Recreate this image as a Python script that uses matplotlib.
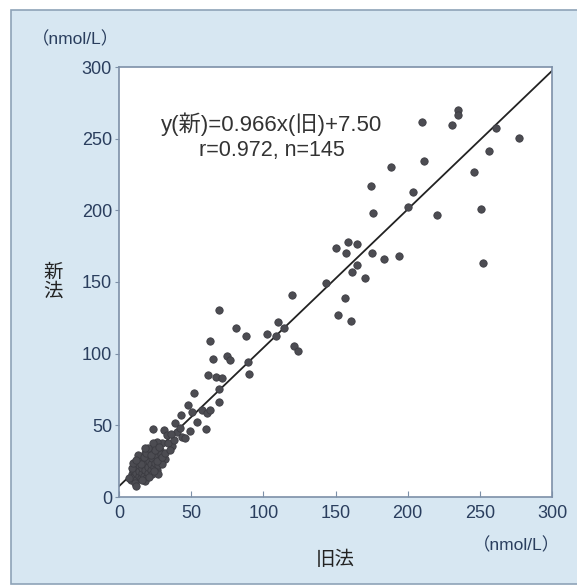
import matplotlib.pyplot as plt
from matplotlib.patches import Rectangle

# old method (x) vs new method (y), nmol/L
old_x = [210, 230.5, 235, 235, 261, 277.4, 188.3, 211, 256.4, 246.2,
         174.6, 204, 200, 176, 220.6, 250.6, 150, 159, 164.7, 157.3,
         164.7, 161.7, 170.5, 175.5, 183.9, 194, 252.5, 143.5, 119.7, 156.6,
         151.5, 160.8, 69.5, 110.4, 114.6, 81, 88, 102.3, 108.8, 63,
         121.3, 123.8, 64.9, 74.6, 76.9, 89.6, 90.3, 61.5, 67.2, 71.2,
         69.5, 69.5, 52.2, 48, 50.4, 57.3, 60.8, 63, 43, 53.8,
         60.3, 49.2, 39, 40.4, 43.5, 45.7, 23.8, 31.4, 33, 36.5,
         29.6, 26.1, 23.8, 21.5, 18, 28.4, 31.9,
         8, 9, 10, 10, 11, 12, 12, 13, 13, 14, 14, 14, 15, 15, 16, 16, 16, 17,
         17, 18, 18, 19, 19, 20, 20, 20, 21, 22, 22, 23, 23, 24, 24, 25, 26,
         26, 27, 27, 28, 29, 30, 11, 9, 13, 15, 17, 18, 19, 21, 22, 25, 7,
         10, 12, 16, 20, 24, 26, 28, 30, 32, 34, 35, 38, 36, 42, 18, 12]
new_y = [261.5, 259.6, 270, 266.6, 257.7, 250.3, 230.5, 234.5, 241.5, 227,
         217, 213, 202, 198, 197, 200.8, 174, 177.7, 176.3, 170,
         162, 156.8, 153, 170, 165.9, 168.4, 163.5, 149, 141, 139,
         127, 122.8, 130.5, 121.9, 117.7, 117.7, 112.6, 113.7, 112.6, 108.9,
         105.6, 101.9, 96.3, 98.4, 95.6, 94, 85.8, 85.1, 84, 82.8,
         75.1, 66, 72.4, 64.2, 59.5, 60.7, 58.4, 60.7, 57.2, 52.1,
         47.2, 46, 51.9, 45.6, 42.1, 41, 47.2, 46.7, 43.3, 35.6,
         37.5, 38.6, 37.9, 32.8, 30.5, 32.8, 26.3,
         12, 16, 14, 19, 22, 12, 17, 20, 25, 15, 18, 22, 13, 27, 17, 20, 24, 15,
         22, 19, 26, 13, 23, 17, 21, 28, 25, 19, 23, 16, 27, 21, 30, 24, 19,
         28, 22, 16, 26, 30, 23, 10, 20, 29, 23, 28, 11, 31, 14, 29, 33, 13,
         24, 26, 12, 34, 18, 25, 35, 28, 31, 38, 33, 40, 44, 48, 34, 8]

slope, intercept = 0.966, 7.50
ticks = [0, 50, 100, 150, 200, 250, 300]

plt.rcParams['font.family'] = ['Liberation Sans', 'Noto Sans CJK JP']
tick_col = '#2a3e5e'
frame_col = '#7d90a8'

fig = plt.figure(figsize=(5.77, 5.85), dpi=100, facecolor='white')
# light blue panel behind the chart
fig.patches.append(Rectangle((11/577, 0.002), 1, 574/585, transform=fig.transFigure,
                             facecolor='#d7e7f2', edgecolor='#8ea3b8', lw=1.2, zorder=-10))

ax = fig.add_axes([119/577, 88/585, 433/577, 430/585])
ax.set_facecolor('white')
ax.scatter(old_x, new_y, s=28, color='#4c4c52', edgecolor='#3c3c42', lw=0.6, zorder=3)
lx = [0, 300]
ax.plot(lx, [slope*v + intercept for v in lx], color='#222222', lw=1.3, zorder=2)

ax.set_xlim(0, 300); ax.set_ylim(0, 300)
ax.set_xticks(ticks); ax.set_yticks(ticks)
for s in ax.spines.values():
    s.set_color(frame_col); s.set_linewidth(1.2)
ax.tick_params(axis='x', direction='in', length=4, color=frame_col, labelsize=13,
               labelcolor=tick_col, pad=6)
ax.tick_params(axis='y', direction='out', length=3, color=frame_col, labelsize=13,
               labelcolor=tick_col, pad=2)

ax.text(106, 260.3, 'y(新)=0.966x(旧)+7.50', ha='center', va='center', fontsize=16,
        color='#333333')
ax.text(106, 242, 'r=0.972, n=145', ha='center', va='center', fontsize=15.5,
        color='#333333')

fig.text(75/577, 1 - 39/585, '（nmol/L）', ha='center', va='center', fontsize=12.5, color=tick_col)
fig.text(516/577, 1 - 545/585, '（nmol/L）', ha='center', va='center', fontsize=12.5, color=tick_col)
fig.text(53/577, 1 - 283/585, '新\n法', ha='center', va='center', fontsize=14,
         color='#222222', linespacing=1.1)
fig.text(335/577, 1 - 560/585, '旧法', ha='center', va='center', fontsize=14,
         color='#222222')

plt.savefig('out.png', dpi=100, facecolor=fig.get_facecolor())
